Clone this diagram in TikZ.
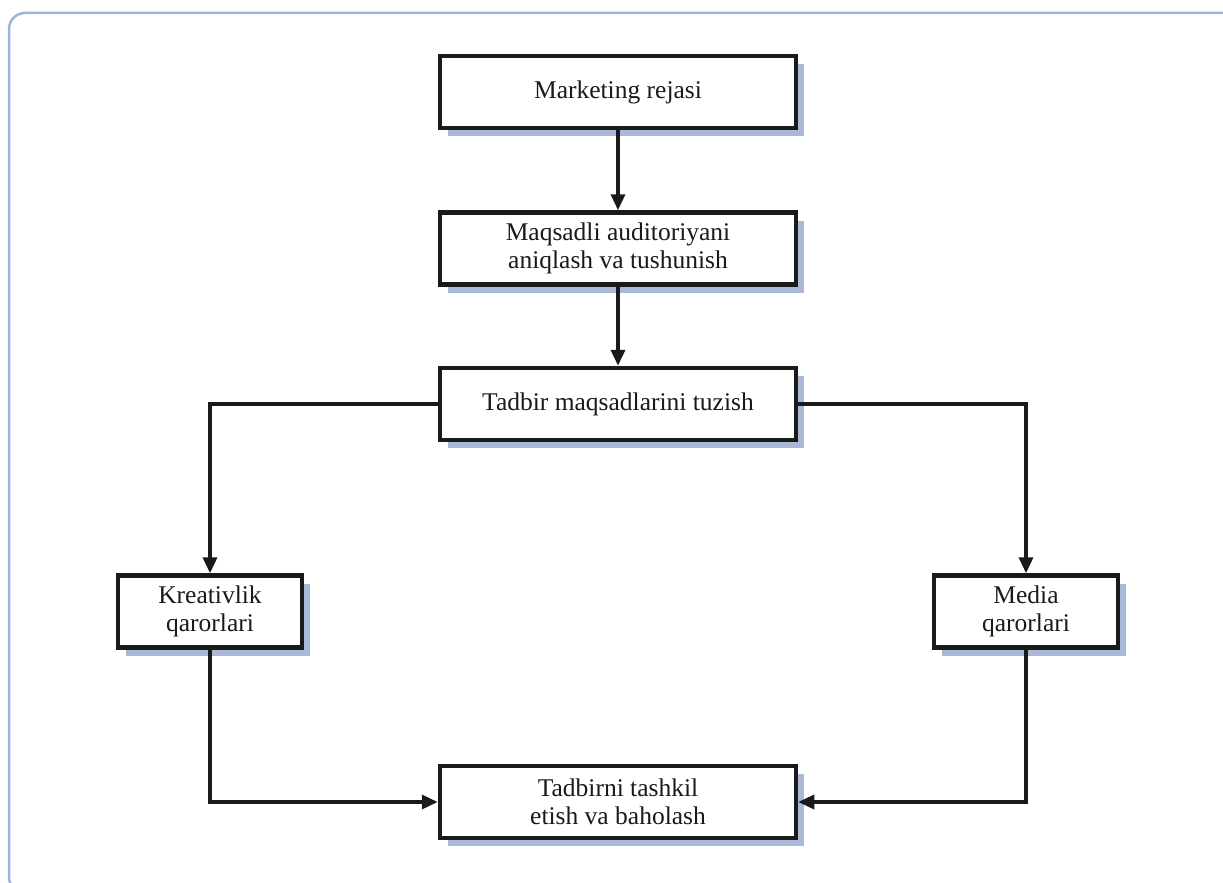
\documentclass[tikz,border=0pt]{standalone}
\usepackage{fontspec}
\setmainfont{Liberation Serif}
\usetikzlibrary{arrows.meta,shadows}
\definecolor{shadowc}{HTML}{A8B8D6}
\definecolor{framec}{HTML}{9EB4D9}
\definecolor{inkc}{HTML}{1A1A1A}
\begin{document}
\begin{tikzpicture}[x=1pt,y=-1pt,
  boxw/.style={draw=inkc, line width=4.5pt, fill=white, align=center,
    font=\fontsize{25.5}{28.5}\selectfont, text=inkc,
    drop shadow={shadow xshift=8pt, shadow yshift=-8pt, fill=shadowc, opacity=1}},
  wide/.style={boxw, minimum width=356pt, minimum height=72pt},
  narrow/.style={boxw, minimum width=184pt, minimum height=72pt},
  arr/.style={draw=inkc, line width=3.5pt, -{Triangle[length=16pt,width=14pt]}}]
\useasboundingbox (0,0) rectangle (1223,883);
\draw[framec, line width=2.5pt, rounded corners=16pt] (1260,13) -- (9,13) -- (9,893) -- (1260,893);
\node[wide] (b1) at (618,92) {\raisebox{-3pt}{Marketing rejasi}};
\node[wide] (b2) at (618,248.5) {Maqsadli auditoriyani\\aniqlash va tushunish};
\node[wide] (b3) at (618,404) {Tadbir maqsadlarini tuzish};
\node[narrow] (b4) at (210,611.5) {Kreativlik\\qarorlari};
\node[narrow] (b5) at (1026,611.5) {Media\\qarorlari};
\node[wide] (b6) at (618,802) {Tadbirni tashkil\\etish va baholash};
\draw[arr] (b1) -- (b2);
\draw[arr] (b2) -- (b3);
\draw[arr] (b3.west) -| (b4.north);
\draw[arr] (b3.east) -| (b5.north);
\draw[arr] (b4.south) |- (b6.west);
\draw[arr] (b5.south) |- (b6.east);
\end{tikzpicture}
\end{document}
